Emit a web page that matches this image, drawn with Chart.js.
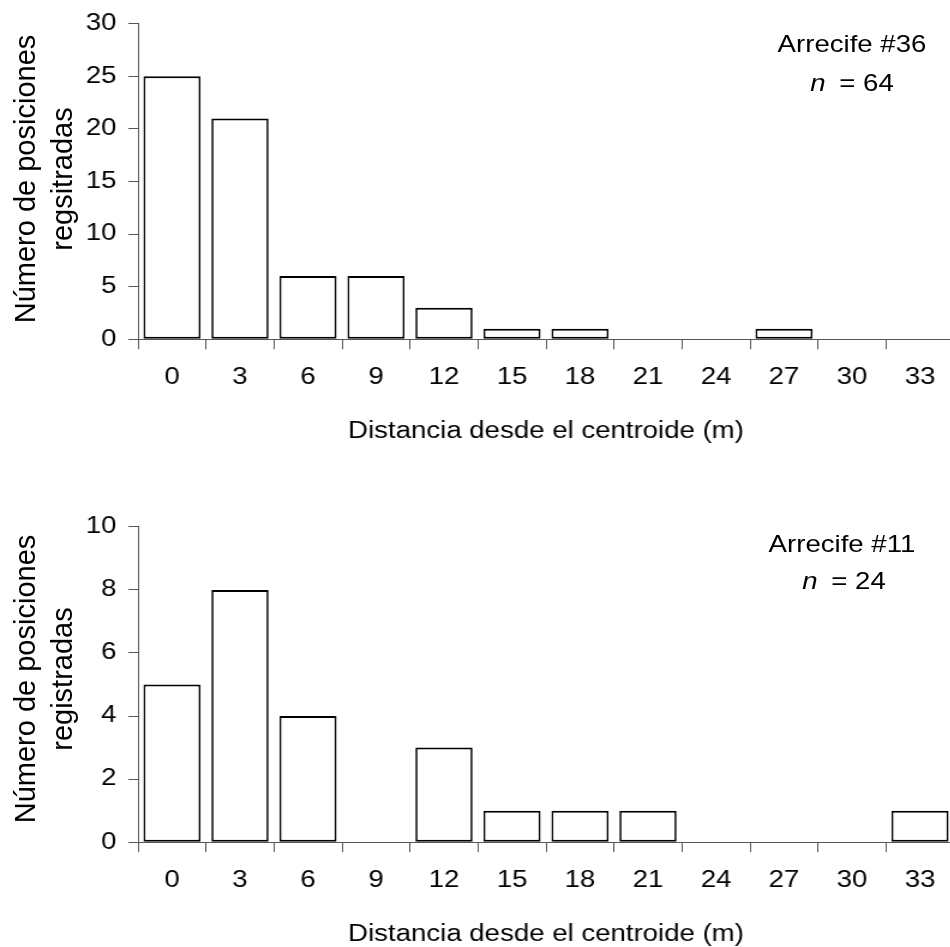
<!DOCTYPE html>
<html>
<head>
<meta charset="utf-8">
<script src="https://cdn.jsdelivr.net/npm/chart.js@4.4.1/dist/chart.umd.min.js"></script>
<style>
  html, body { margin: 0; padding: 0; background: #fff; overflow: hidden; }
  body { width: 950px; height: 947px; position: relative; }
  .panel { position: absolute; left: 0; width: 960px; height: 446px; }
  .note {
    position: absolute;
    transform: translate(-50%, -50%) scaleX(1.15);
    font-family: "Liberation Sans", Arial, sans-serif;
    font-size: 24px;
    color: #000;
    white-space: nowrap;
  }
  .note i { margin-right: 12px; }
  .ytitle {
    position: absolute;
    width: 320px;
    transform: translate(-50%, -50%) rotate(-90deg);
    font-family: "Liberation Sans", Arial, sans-serif;
    font-size: 29px;
    line-height: 37px;
    text-align: center;
    color: #000;
    white-space: nowrap;
  }
</style>
</head>
<body>
<!-- canvas is drawn 800 wide and shown 960 wide, so the axis text comes out broad -->
<div class="panel" style="top:0px"><canvas id="reef36" width="800" height="446" style="width:960px;height:446px"></canvas></div>
<div class="panel" style="top:503px"><canvas id="reef11" width="800" height="446" style="width:960px;height:446px"></canvas></div>

<div class="ytitle" id="reef36Title" style="left:43.5px; top:179px"></div>
<div class="ytitle" id="reef11Title" style="left:43.5px; top:679px"></div>

<div class="note" style="left:852px; top:44px">Arrecife #36</div>
<div class="note" style="left:852px; top:83px"><i>n</i>= 64</div>
<div class="note" style="left:842px; top:544px">Arrecife #11</div>
<div class="note" style="left:844px; top:581px"><i>n</i>= 24</div>

<script>
// distance classes (m)
const distLabels = ['0', '3', '6', '9', '12', '15', '18', '21', '24', '27', '30', '33'];

// recorded positions per distance class
const reef36Counts = [25, 21, 6, 6, 3, 1, 1, 0, 0, 1, 0, 0];
const reef11Counts = [5, 8, 4, 0, 3, 1, 1, 1, 0, 0, 0, 1];

// y axis ranges
const reef36Y = { max: 30, step: 5 };
const reef11Y = { max: 10, step: 2 };

const xTitle = 'Distancia desde el centroide (m)';
const reef36YTitle = ['Número de posiciones', 'regsitradas'];
const reef11YTitle = ['Número de posiciones', 'registradas'];

const fontFamily = '"Liberation Sans", Arial, sans-serif';
const axisFont = { family: fontFamily, size: 23 };
const axisGrey = '#555';

// y titles are html so they are not widened with the canvas
document.getElementById('reef36Title').innerHTML = reef36YTitle.join('<br>');
document.getElementById('reef11Title').innerHTML = reef11YTitle.join('<br>');

const makeChart = (id, counts, yRange) => {
  const ctx = document.getElementById(id).getContext('2d');
  return new Chart(ctx, {
    type: 'bar',
    data: {
      labels: distLabels,
      datasets: [{
        data: counts,
        backgroundColor: '#fff',
        borderColor: '#000',
        borderWidth: { top: 2, bottom: 2, left: 1.7, right: 1.7 },
        borderSkipped: false,
        barPercentage: 0.84,
        categoryPercentage: 1
      }]
    },
    options: {
      responsive: false,
      animation: false,
      devicePixelRatio: 1,
      layout: { padding: { top: 21, left: 0, right: 5, bottom: 1 } },
      plugins: {
        legend: { display: false },
        tooltip: { enabled: false }
      },
      scales: {
        x: {
          offset: true,
          grid: {
            offset: true,
            drawOnChartArea: false,
            drawTicks: true,
            tickLength: 10,
            color: axisGrey
          },
          border: { display: true, color: axisGrey, width: 1 },
          ticks: { color: '#000', font: axisFont, padding: 15, maxRotation: 0, autoSkip: false },
          title: {
            display: true,
            text: xTitle,
            color: '#000',
            font: axisFont,
            padding: { top: 10.6, bottom: 0 }
          }
        },
        y: {
          min: 0,
          max: yRange.max,
          afterFit: (scale) => { scale.width = 115; },
          grid: {
            drawOnChartArea: false,
            drawTicks: true,
            tickLength: 8,
            color: axisGrey
          },
          border: { display: true, color: axisGrey, width: 1 },
          ticks: { stepSize: yRange.step, color: '#000', font: axisFont, padding: 10 },
          title: { display: false }
        }
      }
    }
  });
};

makeChart('reef36', reef36Counts, reef36Y);
makeChart('reef11', reef11Counts, reef11Y);
</script>
</body>
</html>
